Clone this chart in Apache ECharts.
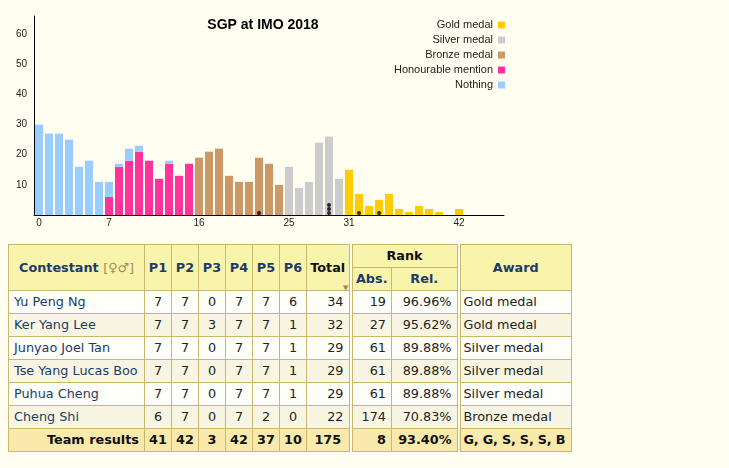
<!DOCTYPE html>
<html>
<head>
<meta charset="utf-8">
<title>SGP at IMO 2018</title>
<script src="https://cdn.jsdelivr.net/npm/echarts/dist/echarts.min.js"></script>
<style>
  html, body { margin: 0; padding: 0; background: #fffef0; }
  #chart { position: absolute; left: 0; top: 0; width: 729px; height: 240px; }
  table.res {
    position: absolute; left: 8px; top: 244px; width: 564px;
    border-collapse: collapse; table-layout: fixed;
    font-family: 'DejaVu Sans', Verdana, sans-serif; font-size: 12.8px;
    color: #222;
  }
  table.res td, table.res th {
    border: 1px solid #c8b86c; height: 22px; padding: 0 5px;
    line-height: 22px; white-space: nowrap; overflow: hidden;
  }
  table.res th { background: #f9f4ac; color: #1d3a6a; font-weight: bold; text-align: center; }
  table.res th.plain { color: #111; }
  table.res th .sym { color: #9c8d5c; font-weight: normal; }
  table.res th.sort { position: relative; }
  table.res th.sort span.tri {
    position: absolute; right: 0; bottom: -2px; font-size: 7px; line-height: 7px; color: #c07a50;
  }
  table.res tr.odd td { background: #fffffa; }
  table.res tr.even td { background: #f8f6e2; }
  table.res tr.team td { background: #f9eaac; font-weight: bold; color: #111; }
  table.res td.name { color: #1d3a6a; text-align: left; }
  table.res td.c { text-align: center; padding: 0; }
  table.res td.r { text-align: right; }
  table.res th.p { padding: 0; }
  table.res .gap { border-left: 4px double #c8b86c; }
  table.res td.award { padding: 0 0 0 3px; text-align: left; overflow: visible; }
  table.res tr.team td.award { letter-spacing: -0.2px; }
  table.res tr.team td.name { text-align: right; }
</style>
</head>
<body>
<div id="chart"></div>
<table class="res" id="results"></table>
<script>
// number of contestants per total score, each list starts at its award cutoff
var nothing = [30, 27, 27, 25, 16, 18, 11, 5, 1, 4, 2, 0, 0, 1];
var honourable = [6, 16, 18, 21, 18, 12, 17, 13, 17];
var bronze = [19, 21, 22, 13, 11, 11, 19, 17, 10];
var silver = [16, 9, 11, 24, 26, 12];
var gold = [15, 7, 3, 5, 7, 2, 1, 3, 2, 1, 0, 2];
var cutoffs = { nothing: 0, honourable: 7, bronze: 16, silver: 25, gold: 31 };
var tickScores = [0, 7, 16, 25, 31, 42];
var maxScore = 46;

// team table
var names = ['Yu Peng Ng', 'Ker Yang Lee', 'Junyao Joel Tan', 'Tse Yang Lucas Boo', 'Puhua Cheng', 'Cheng Shi'];
var problemScores = [
  [7, 7, 0, 7, 7, 6],
  [7, 7, 3, 7, 7, 1],
  [7, 7, 0, 7, 7, 1],
  [7, 7, 0, 7, 7, 1],
  [7, 7, 0, 7, 7, 1],
  [6, 7, 0, 7, 2, 0]
];
var totals = [34, 32, 29, 29, 29, 22];
var absRanks = [19, 27, 61, 61, 61, 174];
var relRanks = ['96.96%', '95.62%', '89.88%', '89.88%', '89.88%', '70.83%'];
var awards = ['Gold medal', 'Gold medal', 'Silver medal', 'Silver medal', 'Silver medal', 'Bronze medal'];
var teamProblems = [41, 42, 3, 42, 37, 10];
var teamTotal = 175;
var teamRank = 8;
var teamRel = '93.40%';
var teamAwards = 'G, G, S, S, S, B';

var scores = [];
for (var s = 0; s <= maxScore; s++) scores.push(String(s));

function spread(list, start) {
  var out = scores.map(function() { return null; });
  list.forEach(function(v, i) { out[start + i] = v || null; });
  return out;
}

// black dots at the foot of the bars, one per SGP contestant
var seen = {};
var dots = totals.map(function(t) {
  var k = seen[t] || 0;
  seen[t] = k + 1;
  return { value: [String(t), 0], symbolOffset: [0, -(2 + 4 * k)] };
});

function barSeries(name, list, start, color) {
  return {
    name: name, type: 'bar', stack: 'all', barWidth: 8,
    data: spread(list, start),
    itemStyle: { color: color },
    emphasis: { disabled: true }
  };
}

var chart = echarts.init(document.getElementById('chart'));
chart.setOption({
  animation: false,
  title: {
    text: 'SGP at IMO 2018', left: 258, top: 13, textAlign: 'center',
    textStyle: { fontFamily: 'Liberation Sans, Arial', fontSize: 14, fontWeight: 'bold', color: '#000' }
  },
  legend: {
    data: ['Gold medal', 'Silver medal', 'Bronze medal', 'Honourable mention', 'Nothing'],
    orient: 'vertical', right: 224, top: 19, align: 'right', padding: 0,
    itemWidth: 7, itemHeight: 7, itemGap: 3, icon: 'rect', selectedMode: false,
    textStyle: { fontFamily: 'Liberation Sans, Arial', fontSize: 11, color: '#222', lineHeight: 12 }
  },
  grid: { left: 34, top: 16, width: 470, height: 199 },
  xAxis: [{
    type: 'category', data: scores, boundaryGap: true,
    axisLine: { lineStyle: { color: '#000', width: 1 } },
    axisTick: { interval: 0, length: 2, lineStyle: { color: '#000' } },
    axisLabel: {
      interval: function(i) { return tickScores.indexOf(i) >= 0; },
      fontFamily: 'Liberation Sans, Arial', fontSize: 10, color: '#222', margin: 3
    }
  }, {
    type: 'category', data: scores, position: 'bottom', boundaryGap: true,
    axisLine: { show: false },
    axisTick: {
      interval: function(i) { return tickScores.indexOf(i) >= 0; },
      length: 4, lineStyle: { color: '#000' }
    },
    axisLabel: { show: false }
  }],
  yAxis: {
    type: 'value', min: 0, max: 66, interval: 10,
    axisLine: { show: true, lineStyle: { color: '#000', width: 1 } },
    axisTick: { show: false },
    splitLine: { show: false },
    axisLabel: {
      formatter: function(v) { return v > 0 && v % 10 === 0 ? v : ''; },
      fontFamily: 'Liberation Sans, Arial', fontSize: 10, color: '#222', margin: 7
    }
  },
  series: [
    barSeries('Honourable mention', honourable, cutoffs.honourable, '#ff3399'),
    barSeries('Nothing', nothing, cutoffs.nothing, '#99ccff'),
    barSeries('Bronze medal', bronze, cutoffs.bronze, '#cc9966'),
    barSeries('Silver medal', silver, cutoffs.silver, '#cccccc'),
    barSeries('Gold medal', gold, cutoffs.gold, '#ffcc00'),
    {
      type: 'scatter', data: dots, symbol: 'circle', symbolSize: 4, z: 5,
      itemStyle: { color: '#000' }, emphasis: { disabled: true }
    }
  ]
});

// results table
var colWidths = [136, 27, 27, 27, 27, 27, 27, 44, 41, 67, 113];
var html = '<colgroup>' + colWidths.map(function(w) { return '<col style="width:' + w + 'px">'; }).join('') + '</colgroup>';
html += '<tr><th rowspan="2">Contestant <span class="sym">[♀♂]</span></th>';
for (var p = 1; p <= 6; p++) html += '<th rowspan="2" class="p">P' + p + '</th>';
html += '<th rowspan="2" class="plain sort p">Total<span class="tri">▼</span></th>';
html += '<th colspan="2" class="plain gap">Rank</th><th rowspan="2" class="gap">Award</th></tr>';
html += '<tr><th class="gap p">Abs.</th><th>Rel.</th></tr>';
names.forEach(function(n, i) {
  html += '<tr class="' + (i % 2 ? 'even' : 'odd') + '"><td class="name">' + n + '</td>';
  problemScores[i].forEach(function(v) { html += '<td class="c">' + v + '</td>'; });
  html += '<td class="r">' + totals[i] + '</td>';
  html += '<td class="r gap">' + absRanks[i] + '</td><td class="r">' + relRanks[i] + '</td>';
  html += '<td class="gap award">' + awards[i] + '</td></tr>';
});
html += '<tr class="team"><td class="name">Team results</td>';
teamProblems.forEach(function(v) { html += '<td class="c">' + v + '</td>'; });
html += '<td class="c">' + teamTotal + '</td><td class="r gap">' + teamRank + '</td><td class="r">' + teamRel + '</td>';
html += '<td class="gap award">' + teamAwards + '</td></tr>';
document.getElementById('results').innerHTML = html;
</script>
</body>
</html>
